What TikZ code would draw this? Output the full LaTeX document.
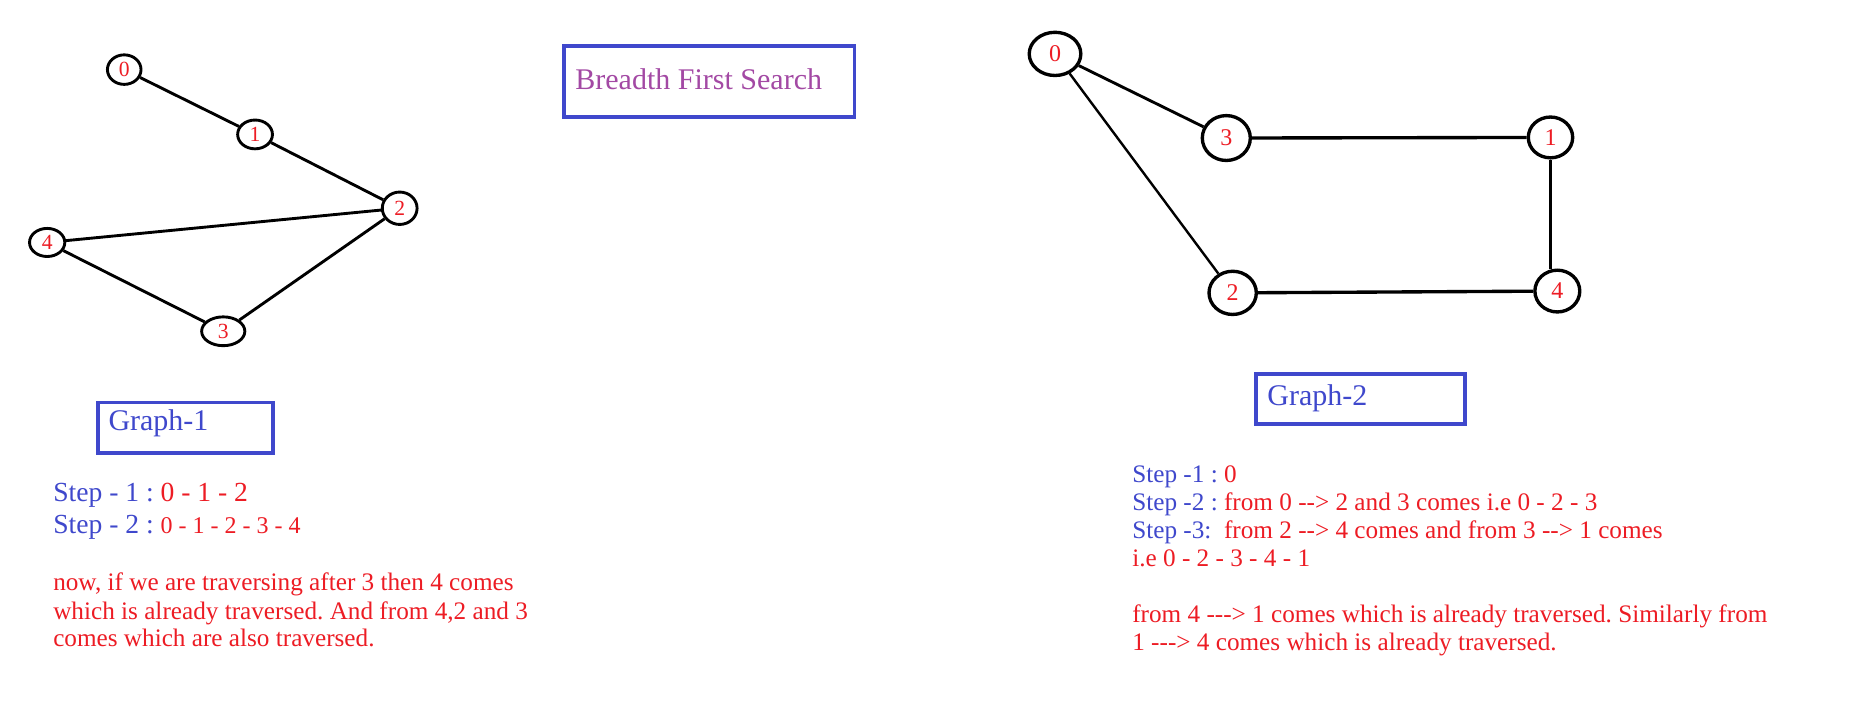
\documentclass[tikz,border=0pt]{standalone}
\usepackage{fontspec}
\setmainfont{Liberation Serif}
\usetikzlibrary{shapes.geometric}
\definecolor{pblue}{RGB}{63,72,204}
\definecolor{pred}{RGB}{237,28,36}
\definecolor{ppurple}{RGB}{163,73,164}
\frenchspacing
\begin{document}
\begin{tikzpicture}[x=0.5pt,y=-0.5pt,
  vtx/.style={ellipse,draw=black,line width=1.2pt,inner sep=0pt,text=pred,font=\fontsize{9}{9}\selectfont},
  bvtx/.style={vtx,line width=1.4pt,font=\fontsize{10}{10}\selectfont},
  edge/.style={line width=1.2pt,black},
  thinedge/.style={line width=1pt,black},
  thickedge/.style={line width=1.4pt,black},
  titlebox/.style={draw=pblue,line width=1.5pt,inner sep=0pt},
  txt/.style={anchor=base west,inner sep=0pt,font=\fontsize{10.5}{12}\selectfont},
  bigtxt/.style={anchor=base west,inner sep=0pt,font=\fontsize{11.5}{13}\selectfont},
  ttl/.style={anchor=base west,inner sep=0pt,font=\fontsize{12.5}{14}\selectfont}
]
\useasboundingbox[fill=white] (0,0) rectangle (1558,600);

% ---------- Graph 1 ----------
\node[vtx,minimum width=14pt,minimum height=12.3pt] (a0) at (103.5,58) {0};
\node[vtx,minimum width=14.5pt,minimum height=12pt] (a1) at (212.5,112) {1};
\node[vtx,minimum width=14.5pt,minimum height=13.5pt] (a2) at (333,173.5) {2};
\node[vtx,minimum width=14.7pt,minimum height=11.7pt] (a4) at (39.3,202) {4};
\node[vtx,minimum width=18pt,minimum height=12pt] (a3) at (186,276) {3};
\draw[edge] (a0) -- (a1);
\draw[edge] (a1) -- (a2);
\draw[edge] (a2) -- (a4);
\draw[edge] (a2) -- (a3);
\draw[edge] (a4) -- (a3);

% ---------- Title ----------
\node[titlebox,minimum width=121pt,minimum height=29.65pt] (bfsbox) at (591,67.9) {};
\node[ttl,text=ppurple] (bfs) at (479,74.4) {Breadth First Search};

% ---------- Graph 2 ----------
\node[bvtx,minimum width=21.5pt,minimum height=18pt] (b0) at (879,44.9) {0};
\node[bvtx,minimum width=20pt,minimum height=18.7pt] (b3) at (1021.7,115) {3};
\node[bvtx,minimum width=18.5pt,minimum height=17pt] (b1) at (1291.8,114.5) {1};
\node[bvtx,minimum width=19.7pt,minimum height=18pt] (b2) at (1027,244) {2};
\node[bvtx,minimum width=18.7pt,minimum height=17.4pt] (b4) at (1297.5,242.5) {4};
\draw[edge] (b0) -- (b3);
\draw[thinedge] (b0) -- (b2);
\draw[thickedge] (b3) -- (b1);
\draw[thickedge] (b1) -- (b1 |- b4.north);
\draw[thickedge] (b2) -- (b4);

% ---------- Graph-1 labels ----------
\node[titlebox,minimum width=73pt,minimum height=21.15pt] (g1box) at (154.5,356.5) {};
\node[ttl,text=pblue] (g1) at (90,358.9) {Graph-1};

\node[bigtxt] (s1) at (44,418) {\textcolor{pblue}{Step - 1 : }\textcolor{pred}{0 - 1 - 2}};
\node[bigtxt] (s2) at (44,444.4) {\textcolor{pblue}{Step - 2 : }\textcolor{pred}{\fontsize{10}{12}\selectfont 0 - 1 - 2 - 3 - 4}};

\node[txt,text=pred] (p1) at (44,492.2) {now, if we are traversing after 3 then 4 comes};
\node[txt,text=pred] (p2) at (44,515.8) {which is already traversed. And from 4,2 and 3};
\node[txt,text=pred] (p3) at (44,538.9) {comes which are also traversed.};

% ---------- Graph-2 labels ----------
\node[titlebox,minimum width=87.2pt,minimum height=20.7pt] (g2box) at (1133.6,332.5) {};
\node[ttl,text=pblue] (g2) at (1055.5,338) {Graph-2};

\node[txt] (r1) at (943,402.2) {\textcolor{pblue}{Step -1 : }\textcolor{pred}{0}};
\node[txt] (r2) at (943,425.6) {\textcolor{pblue}{Step -2 : }\textcolor{pred}{from 0 -{}-> 2 and 3 comes i.e 0 - 2 - 3}};
\node[txt] (r3) at (943,448.6) {\textcolor{pblue}{Step -3:}\ \ \textcolor{pred}{from 2 -{}-> 4 comes and from 3 -{}-> 1 comes}};
\node[txt,text=pred] (r4) at (943,471.7) {i.e 0 - 2 - 3 - 4 - 1};
\node[txt,text=pred] (r5) at (943,518.9) {from 4 -{}-{}-> 1 comes which is already traversed. Similarly from};
\node[txt,text=pred] (r6) at (943,541.7) {1 -{}-{}-> 4 comes which is already traversed.};
\end{tikzpicture}
\end{document}
